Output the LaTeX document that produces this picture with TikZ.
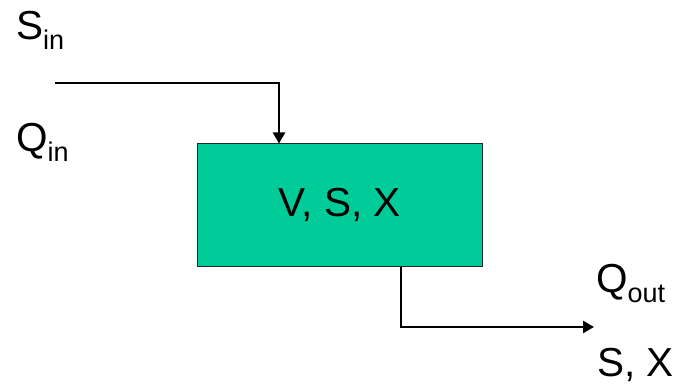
\documentclass[tikz,border=0pt]{standalone}
\usepackage{fontspec}
\setmainfont{Liberation Sans}
\usetikzlibrary{arrows.meta,calc}
\definecolor{boxgreen}{HTML}{00CC99}
\newcommand{\bigtxt}{\fontsize{40.5}{48}\selectfont}
\newcommand{\subtxt}[1]{\raisebox{-10pt}{\fontsize{27}{32}\selectfont #1}}
\begin{document}
\begin{tikzpicture}[x=1pt,y=1pt,
  lbl/.style={anchor=base west,inner sep=0pt,font=\bigtxt},
  tank/.style={draw=black!85,line width=1pt,fill=boxgreen,minimum width=285pt,minimum height=122pt,inner sep=0pt,font=\bigtxt},
  flow/.style={line width=2.5pt,-{Triangle[length=11pt,width=12pt]}}]
\useasboundingbox (0,0) rectangle (678,-385);
\node[tank] (box) at (339.75,-205) {V, S, X};
\node[lbl] (sin) at (16,-40) {S\subtxt{in}};
\node[lbl] (qin) at (16,-152) {Q\subtxt{in}};
\node[lbl] (qout) at (596,-292) {Q\subtxt{out}};
\node[lbl] (sx) at (597,-376) {S, X};
\coordinate (inStart) at (55,-83);
\coordinate (inTurn) at (279,-83);
\coordinate (outTurn) at (401,-327);
\coordinate (outEnd) at (594,-327);
\draw[flow] (inStart) -- (inTurn) -- (inTurn |- box.north);
\draw[flow] (outTurn |- box.south) -- (outTurn) -- (outEnd);
\end{tikzpicture}
\end{document}
